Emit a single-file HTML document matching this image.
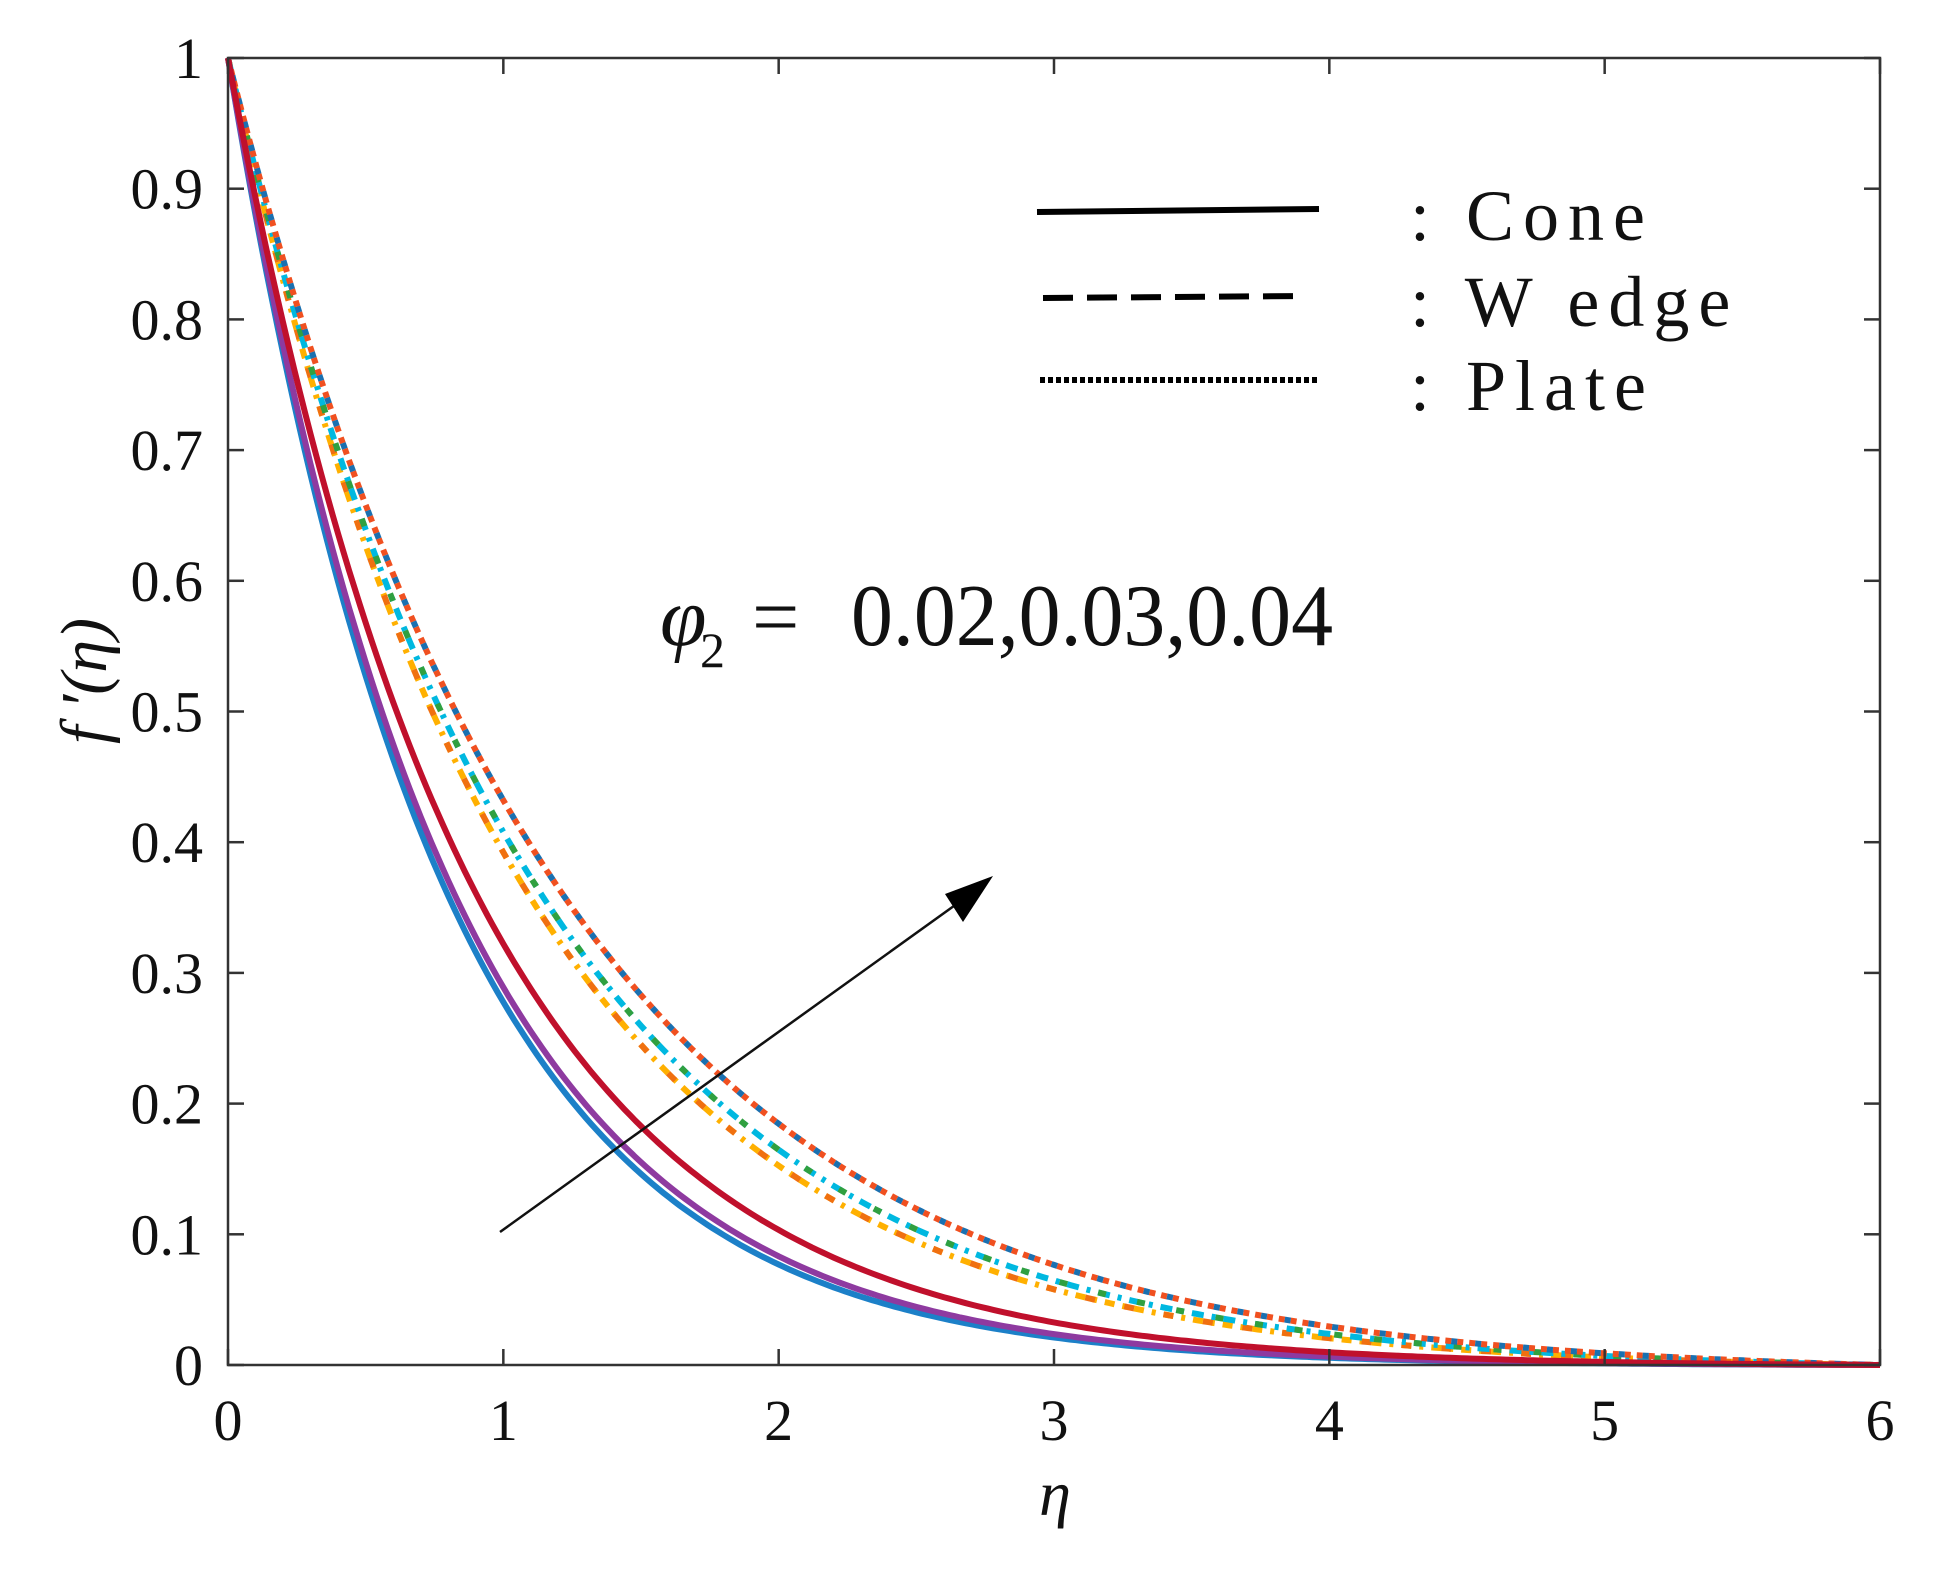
<!DOCTYPE html>
<html><head><meta charset="utf-8"><style>
html,body{margin:0;padding:0;background:#fff;}
svg{display:block;}
text{font-family:"Liberation Serif",serif;fill:#111;}
</style></head><body>
<svg id="s" width="1933" height="1579" viewBox="0 0 1933 1579" xmlns="http://www.w3.org/2000/svg">
<g id="curves" fill="none" stroke-linecap="butt"></g>
<rect x="228" y="58" width="1652" height="1307" fill="none" stroke="#333" stroke-width="2.5"/>
<g id="ticks" stroke="#333" stroke-width="2.5"></g>
<g id="lab" font-size="58" text-anchor="end"></g>
<g id="xlab" font-size="58" text-anchor="middle"></g>
<!-- legend -->
<line x1="1037" y1="212" x2="1319" y2="209" stroke="#000" stroke-width="6"/>
<line x1="1043" y1="298" x2="1305" y2="296" stroke="#000" stroke-width="6" stroke-dasharray="30,14"/>
<line x1="1040" y1="380" x2="1319" y2="380" stroke="#000" stroke-width="6" stroke-dasharray="5,3"/>
<text x="1410" y="240" font-size="72" letter-spacing="9">: Cone</text>
<text x="1410" y="326" font-size="72" letter-spacing="9">: W edge</text>
<text x="1410" y="410" font-size="72" letter-spacing="9">: Plate</text>
<!-- annotation -->
<text x="660" y="645" font-size="84" font-style="italic">φ</text>
<text x="700" y="667" font-size="50">2</text>
<text x="752" y="645" font-size="84">=</text>
<text x="851" y="645" font-size="88" textLength="482" lengthAdjust="spacingAndGlyphs">0.02,0.03,0.04</text>
<line x1="500" y1="1232" x2="965" y2="898" stroke="#111" stroke-width="2.5"/>
<polygon points="993,876 945,894 963,922" fill="#000"/>
<text x="1055" y="1515" font-size="64" font-style="italic" text-anchor="middle">η</text>
<text transform="translate(106,681) rotate(-90)" font-size="66" font-style="italic" text-anchor="middle">f ′(η)</text>
</svg>
<script>
var X0=228,X1=1880,Y0=1365,Y1=58;
function px(e){return X0+e/6*(X1-X0);} function py(v){return Y0-v*(Y0-Y1);}
function path(a){var d='';for(var i=0;i<=300;i++){var e=6*i/300;var v=(Math.exp(-a*e)-Math.exp(-6*a))/(1-Math.exp(-6*a));d+=(i?'L':'M')+px(e).toFixed(1)+','+py(v).toFixed(1);}return d;}
var g=document.getElementById('curves');
function add(a,col,w,dash,off){var p=document.createElementNS('http://www.w3.org/2000/svg','path');p.setAttribute('d',path(a));p.setAttribute('stroke',col);p.setAttribute('stroke-width',w);if(dash){p.setAttribute('stroke-dasharray',dash);p.setAttribute('stroke-dashoffset',off||0);}g.appendChild(p);}
add(0.93,'#ffb000',6,'10,8,4,8',0);add(0.93,'#f07010',6,'10,30',0);
add(0.89,'#00b8e0',6,'12,8,4,8',0);add(0.89,'#30a040',6,'8,32',0);
add(0.83,'#f05020',6,'6,6',0);add(0.83,'#1a70b0',6,'6,18',6);
add(1.28,'#1c80c8',6);add(1.24,'#8e3aa0',6);add(1.13,'#c0102c',6);
var t=document.getElementById('ticks'),lab=document.getElementById('lab'),xl=document.getElementById('xlab');
var ns='http://www.w3.org/2000/svg';
function ln(x1,y1,x2,y2){var l=document.createElementNS(ns,'line');l.setAttribute('x1',x1);l.setAttribute('y1',y1);l.setAttribute('x2',x2);l.setAttribute('y2',y2);t.appendChild(l);}
for(var i=0;i<=10;i++){var y=py(i/10);ln(X0,y,X0+16,y);ln(X1,y,X1-16,y);var tx=document.createElementNS(ns,'text');tx.setAttribute('x',203);tx.setAttribute('y',y+20);var s=i==0?'0':i==10?'1':'0.'+i;tx.textContent=s;lab.appendChild(tx);}
for(var j=0;j<=6;j++){var x=px(j);ln(x,Y0,x,Y0-16);ln(x,Y1,x,Y1+16);var tx2=document.createElementNS(ns,'text');tx2.setAttribute('x',x);tx2.setAttribute('y',1440);tx2.textContent=j;xl.appendChild(tx2);}
</script>
</body></html>
